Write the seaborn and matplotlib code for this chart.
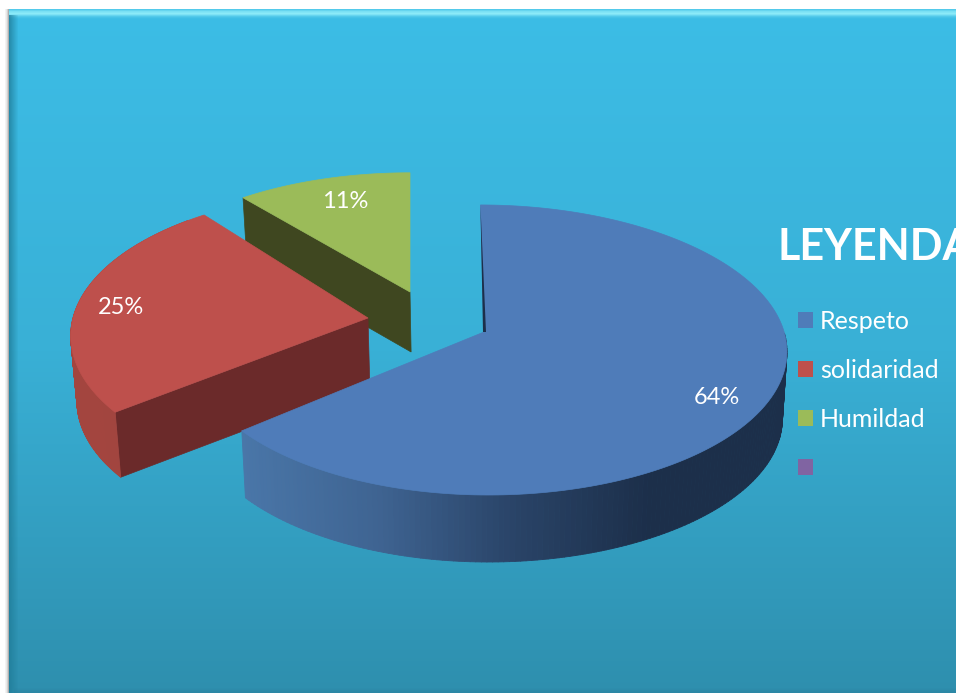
import numpy as np
import matplotlib
matplotlib.use("Agg")
import matplotlib.pyplot as plt
from matplotlib.colors import LinearSegmentedColormap, to_rgb
from matplotlib.patches import Patch, Polygon
from matplotlib.collections import PolyCollection
import seaborn as sns

categories = ["Respeto", "solidaridad", "Humildad", ""]
values = [64, 25, 11]
top_colors = ["#4F7CB9", "#BE504C", "#9BBB59", "#8064A2"]
inner_colors = ["#1C2F4A", "#6B2A2A", "#3F4720"]
wall_colors = [["#4A76A8", "#3F6492", "#2A4468", "#1C2F4A", "#1C2F4A"],
               ["#A3453F", "#A3453F"], ["#3F4720", "#3F4720"]]
apex_x = [484, 368, 410]
apex_y = [332, 318, 292]
radius = [296, 295, 287]
y_radius = [142.8, 142.8, 134]
lean = [0.014, 0, 0]
skew = [-4, 0, 0]
turn_deg = [0, 2, 0]
depth = [67, 65, 60]
label_xy = [(717, 397), (121, 308), (345, 202)]

sns.set_theme(style="white")
plt.rcParams["font.family"] = ["Lato", "DejaVu Sans"]

fig = plt.figure(figsize=(9.56, 6.93), dpi=100)
ax = fig.add_axes([0, 0, 1, 1])
ax.set_xlim(0, 956)
ax.set_ylim(693, 0)
ax.axis("off")

# panel: vertical gradient with bevelled edges
bg = LinearSegmentedColormap.from_list("bg", ["#3CBDE6", "#39B0D6", "#2E8FAE"])
ax.imshow(np.linspace(0, 1, 256)[:, None], cmap=bg, extent=(9, 956, 693, 9),
          aspect="auto", zorder=0)
top_band = np.zeros((10, 1, 4))
top_band[..., :3] = to_rgb("#8BEAF8")
top_band[:, 0, 3] = [0.3, 0.55, 0.8, 0.9, 1.0, 0.85, 0.55, 0.3, 0.15, 0.05]
ax.imshow(top_band, extent=(9, 956, 19, 9), aspect="auto", zorder=1)
left_band = np.zeros((1, 10, 4))
left_band[..., :3] = to_rgb("#1F7C98")
left_band[0, :, 3] = np.linspace(0.75, 0.0, 10)
ax.imshow(left_band, extent=(9, 19, 693, 15), aspect="auto", zorder=1)
shadow = np.zeros((1, 5, 4))
shadow[..., :3] = 0.55
shadow[0, :, 3] = [0.0, 0.1, 0.2, 0.4, 0.7]
ax.imshow(shadow, extent=(4, 9, 693, 9), aspect="auto", zorder=1)
bottom_band = np.zeros((6, 1, 4))
bottom_band[..., :3] = to_rgb("#2A7F9C")
bottom_band[:, 0, 3] = np.linspace(0.0, 0.5, 6)
ax.imshow(bottom_band, extent=(14, 956, 693, 687), aspect="auto", zorder=1)
ax.set_xlim(0, 956)
ax.set_ylim(693, 0)

PERSP = 0.124
SHRINK = 0.985
CENTER_X = 484


def rim(k, theta):
    u, v = np.sin(theta), np.cos(theta)
    s = 1 / (1 + PERSP * v)
    return (apex_x[k] + radius[k] * (1 + lean[k] * u) * u * s + skew[k] * v * s,
            apex_y[k] - y_radius[k] * v * s)


def drop(k, x, y):
    return CENTER_X + (np.asarray(x) - CENTER_X) * SHRINK, np.asarray(y) + depth[k]


fractions = np.cumsum([0] + values) / sum(values)
z = 3
for k in [2, 1, 0]:
    turn = np.deg2rad(turn_deg[k])
    t0 = 2 * np.pi * fractions[k] + turn
    t1 = 2 * np.pi * fractions[k + 1] + turn
    theta = np.linspace(t0, t1, 240)
    xs, ys = rim(k, theta)
    ax0, ay0 = apex_x[k], apex_y[k]
    bx0, by0 = drop(k, ax0, ay0)

    # radial inner face towards the viewer
    if k in (1, 2):
        tx, ty = xs[0], ys[0]
        bx, by = drop(k, tx, ty)
        ax.add_patch(Polygon([(ax0, ay0), (tx, ty), (bx, by), (bx0, by0)],
                             closed=True, fc=inner_colors[k], ec=inner_colors[k],
                             lw=0.5, zorder=z))
    # curved outer wall
    if k in (0, 1):
        front = np.cos(theta) < 0.0 if k == 0 else np.cos(theta) < 0.75
        idx = np.where(front)[0]
        segs, cols = [], []
        wall = LinearSegmentedColormap.from_list("w", wall_colors[k])
        lo, hi = xs[idx].min(), xs[idx].max()
        for i, j in zip(idx[:-1], idx[1:]):
            bxa, bya = drop(k, xs[i], ys[i])
            bxb, byb = drop(k, xs[j], ys[j])
            segs.append([(xs[i], ys[i]), (xs[j], ys[j]), (bxb, byb), (bxa, bya)])
            cols.append(wall((xs[i] - lo) / (hi - lo)))
        ax.add_collection(PolyCollection(segs, facecolors=cols, edgecolors=cols,
                                         linewidths=0.6, zorder=z))
    # top surface
    pts = [(ax0, ay0)] + list(zip(xs, ys))
    ax.add_patch(Polygon(pts, closed=True, fc=top_colors[k], ec=top_colors[k],
                         lw=0.5, zorder=z + 0.5))
    # sliver of the start face of the big slice
    if k == 0:
        ax.add_patch(Polygon([(xs[0], ys[0]), (ax0 - 1, ay0), (ax0 + 2, ay0)],
                             closed=True, fc=inner_colors[0], ec="none",
                             zorder=z + 0.6))
    z += 1

for val, (lx, ly) in zip(values, label_xy):
    ax.text(lx, ly, f"{val}%", color="white", fontsize=17, ha="center",
            va="center", zorder=10)

ax.text(778, 247, "LEYENDA", color="white", fontsize=31, fontweight="bold",
        ha="left", va="center", zorder=10)

handles = [Patch(fc=c, ec="none") for c in top_colors]
leg = ax.legend(handles, categories, frameon=False,
                loc="upper left", fontsize=18, labelcolor="white", labelspacing=1.035,
                handlelength=0.6, handleheight=0.6, handletextpad=0.28,
                borderpad=0, borderaxespad=0)
leg.set_zorder(10)
leg.set_bbox_to_anchor((798, 310), transform=ax.transData)

fig.savefig("out.png", dpi=100, facecolor="white")
